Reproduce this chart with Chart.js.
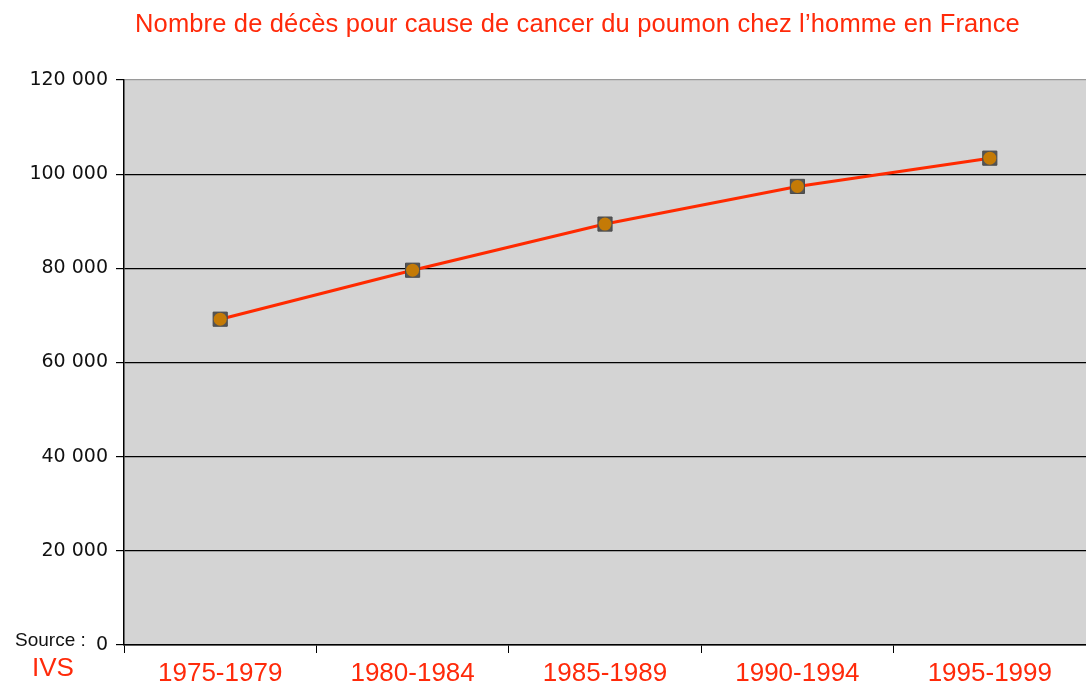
<!DOCTYPE html>
<html>
<head>
<meta charset="utf-8">
<script src="https://cdn.jsdelivr.net/npm/chart.js@4/dist/chart.umd.min.js"></script>
<style>
  body { margin:0; background:#fff; }
  #wrap { position:relative; width:1086px; height:684px; }
  .txt { position:absolute; white-space:nowrap; font-family:"Liberation Sans", Arial, sans-serif; }
  #title { left:135px; top:9px; font-size:25.5px; letter-spacing:0.15px; color:#ff2a0a; }
  #src { left:15px; top:629px; font-size:19px; color:#111; }
  #ivs { left:32px; top:652px; font-size:26px; color:#ff2a0a; }
</style>
</head>
<body>
<div id="wrap">
  <canvas id="c" width="1086" height="684"></canvas>
  <div class="txt" id="title">Nombre de décès pour cause de cancer du poumon chez l’homme en France</div>
  <div class="txt" id="src">Source :</div>
  <div class="txt" id="ivs">IVS</div>
</div>
<script>
const periods = ['1975-1979', '1980-1984', '1985-1989', '1990-1994', '1995-1999'];
const deaths = [69200, 79600, 89400, 97400, 103400];
const yTicks = [0, 20000, 40000, 60000, 80000, 100000, 120000];

function fmt(v){ return String(v).replace(/\B(?=(\d{3})+(?!\d))/g, ' '); }

const plotBg = {
  id: 'plotBg',
  beforeDraw(chart) {
    const a = chart.chartArea, ctx = chart.ctx;
    ctx.save();
    ctx.fillStyle = '#d4d4d4';
    ctx.fillRect(a.left, a.top, a.right - a.left, a.bottom - a.top);
    ctx.restore();
  }
};

new Chart(document.getElementById('c').getContext('2d'), {
  type: 'line',
  data: {
    labels: periods,
    datasets: [{
      data: deaths,
      order: 2,
      borderColor: '#ff2a00',
      borderWidth: 3,
      tension: 0,
      pointStyle: 'rect',
      pointRadius: 10,
      pointBackgroundColor: '#555555',
      pointBorderColor: '#4a4a4a',
      pointBorderWidth: 1
    }, {
      // orange centre of the markers
      data: deaths,
      order: 1,
      showLine: false,
      pointStyle: 'circle',
      pointRadius: 6.5,
      pointBackgroundColor: '#c47a06',
      pointBorderColor: '#c47a06',
      pointBorderWidth: 0
    }]
  },
  options: {
    responsive: false,
    animation: false,
    layout: { autoPadding: false, padding: { top: 80, right: 0, left: 0, bottom: 0 } },
    plugins: { legend: { display: false }, tooltip: { enabled: false }, title: { display: false } },
    scales: {
      x: {
        offset: true,
        afterFit(s){ s.height = 39; s.paddingLeft = 0; s.paddingRight = 0; },
        grid: { offset: true, drawOnChartArea: false, color: '#000', tickLength: 8 },
        border: { color: '#000', width: 1.5 },
        ticks: { color: '#ff2a0a', padding: 5, font: { family: 'Liberation Sans', size: 26 } }
      },
      y: {
        min: 0, max: 120000,
        afterFit(s){ s.width = 124; },
        afterBuildTicks(s){ s.ticks = yTicks.map(v => ({ value: v })); },
        grid: {
          color: ctx => (ctx.tick && ctx.tick.value === 120000) ? '#9a9a9a' : '#000',
          tickColor: '#000',
          tickLength: 8,
          lineWidth: 1.2
        },
        border: { color: '#000', width: 1.5 },
        ticks: {
          color: '#111', padding: 8,
          font: { family: 'DejaVu Sans', size: 19 },
          callback: v => fmt(v)
        }
      }
    }
  },
  plugins: [plotBg]
});
</script>
</body>
</html>
